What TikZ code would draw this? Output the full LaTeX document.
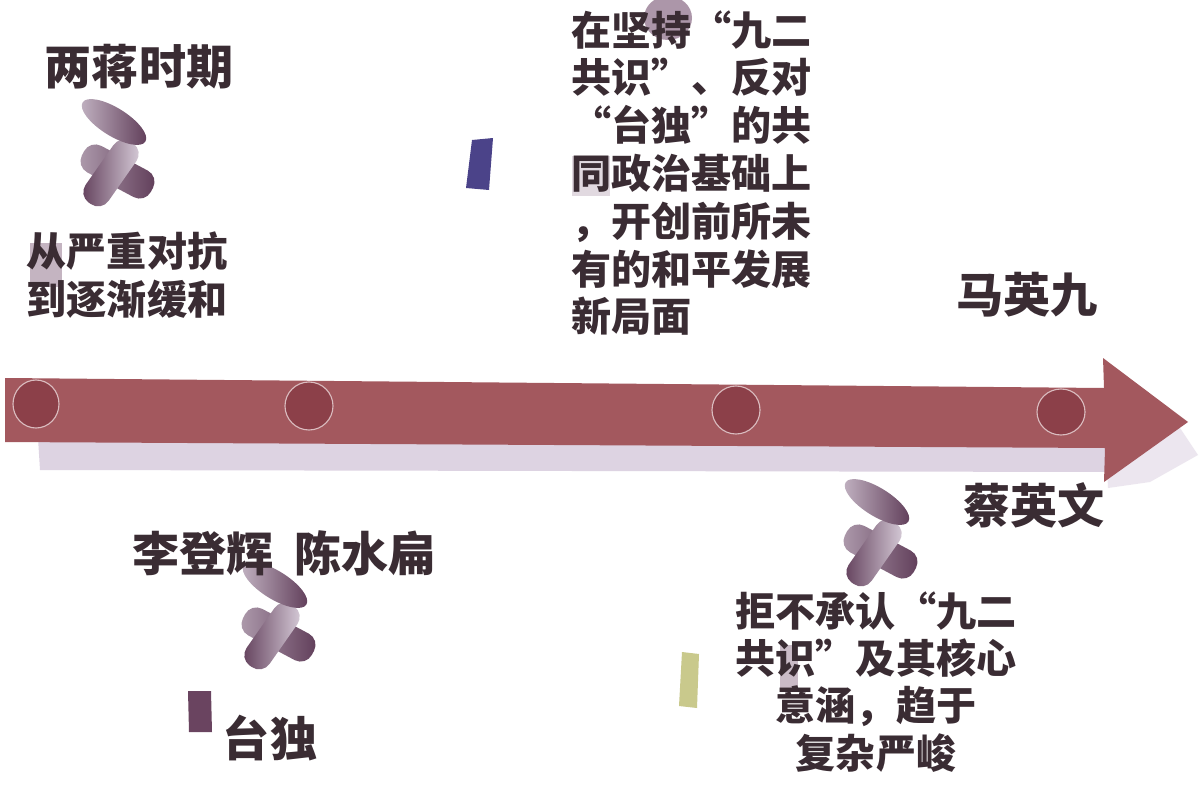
\documentclass[tikz,border=0pt]{standalone}
\usepackage{fontspec}
\newfontfamily\cjk{Noto Sans CJK SC}
\usetikzlibrary{calc}
\definecolor{txt}{HTML}{3A2C33}
\definecolor{arrowcol}{HTML}{A3585E}
\definecolor{dotcol}{HTML}{8C4049}
\definecolor{shadowcol}{HTML}{C2AFCB}
\definecolor{pinlight}{HTML}{DCD2DE}
\definecolor{pindark}{HTML}{5E3B57}
\definecolor{bluerect}{HTML}{4B4389}
\definecolor{purprect}{HTML}{6A4460}
\definecolor{greenrect}{HTML}{C9C98C}
\definecolor{smudge}{HTML}{8A6A85}
\newcommand\oq{\makebox[1em][r]{“}}
\newcommand\cq{\makebox[1em][l]{”}}
\tikzset{
  pushpin/.pic={
    \begin{scope}[shift={(0.5,-5.5)}, rotate=-28]
      \path[left color=pinlight!65!pindark, right color=pindark, rounded corners=9pt] (-39,-15) rectangle (39,15);
    \end{scope}
    \begin{scope}[shift={(-6,-4)}, rotate=55]
      \path[left color=pindark, right color=pinlight, rounded corners=9pt] (-37,-14) rectangle (37,14);
    \end{scope}
    \path[left color=pinlight!80!pindark, right color=pindark, rotate around={-32:(-3,-55)}] (-3,-55) ellipse [x radius=37, y radius=14];
  }
}
\begin{document}
\begin{tikzpicture}[x=0.025cm,y=-0.025cm,
  title/.style={text=txt, inner sep=0pt, font=\cjk\bfseries\fontsize{33.5}{40}\selectfont},
  body/.style={text=txt, inner sep=0pt, font=\cjk\bfseries\fontsize{28.5}{34}\selectfont},
  body2/.style={text=txt, inner sep=0pt, font=\cjk\bfseries\fontsize{28.5}{33.5}\selectfont},
  dot/.style={fill=dotcol, draw=arrowcol!40!white, line width=0.8pt}]
\useasboundingbox[fill=white] (0,0) rectangle (1200,788);

% shadow under the arrow
\fill[shadowcol, opacity=0.55] (38,438) -- (1110,440) -- (1110,472) -- (40,470) -- cycle;
\fill[shadowcol, opacity=0.3] (1105,432) -- (1180,428) -- (1198,455) -- (1150,482) -- (1108,488) -- cycle;
% timeline arrow
\fill[arrowcol] (5,378) -- (1104,388) -- (1103,358) -- (1188,422) -- (1104,482) -- (1105,448) -- (5,442) -- cycle;
\fill[dot] (36,404) ellipse [x radius=23, y radius=24];
\fill[dot] (309,406) ellipse [x radius=24, y radius=24];
\fill[dot] (736,410) ellipse [x radius=24, y radius=24];
\fill[dot] (1061,412) ellipse [x radius=24, y radius=23];

% pins
\pic at (117,177) {pushpin};
\pic at (278,640) {pushpin};
\pic at (880,557) {pushpin};

% small marks
\fill[bluerect] (472,140) -- (493,138) -- (489,190) -- (466,188) -- cycle;
\fill[purprect] (188,691) -- (211,691) -- (212,732) -- (189,732) -- cycle;
\fill[greenrect] (682,652) -- (699,654) -- (697,708) -- (679,706) -- cycle;
\fill[smudge, opacity=0.7] (668,18) ellipse [x radius=24, y radius=22];
\fill[smudge, opacity=0.5] (30,243) rectangle (62,287);
\fill[smudge, opacity=0.25] (572,156) rectangle (610,196);
\fill[smudge, opacity=0.45] (780,645) rectangle (798,690);

% texts
\node[title] (liangjiang) at (139,67) {两蒋时期};
\node[body, align=center] (duikang) at (127,275) {从严重对抗\\到逐渐缓和};
\node[body, align=left, anchor=west] (jiuer) at (571,173) {在坚持\oq 九二\\共识\cq 、反对\\\oq 台独\cq 的共\\同政治基础上\\，开创前所未\\有的和平发展\\新局面};
\node[title] (ma) at (1027,295) {马英九};
\node[title] (cai) at (1034,505) {蔡英文};
\node[title] (lichen) at (284,553) {李登辉\hspace{0.45em}陈水扁};
\node[title] (taidu) at (270,738) {台独};
\node[body2, align=center] (jujue) at (876,682) {拒不承认\oq 九二\\共识\cq 及其核心\\意涵，趋于\\复杂严峻};
\end{tikzpicture}
\end{document}
